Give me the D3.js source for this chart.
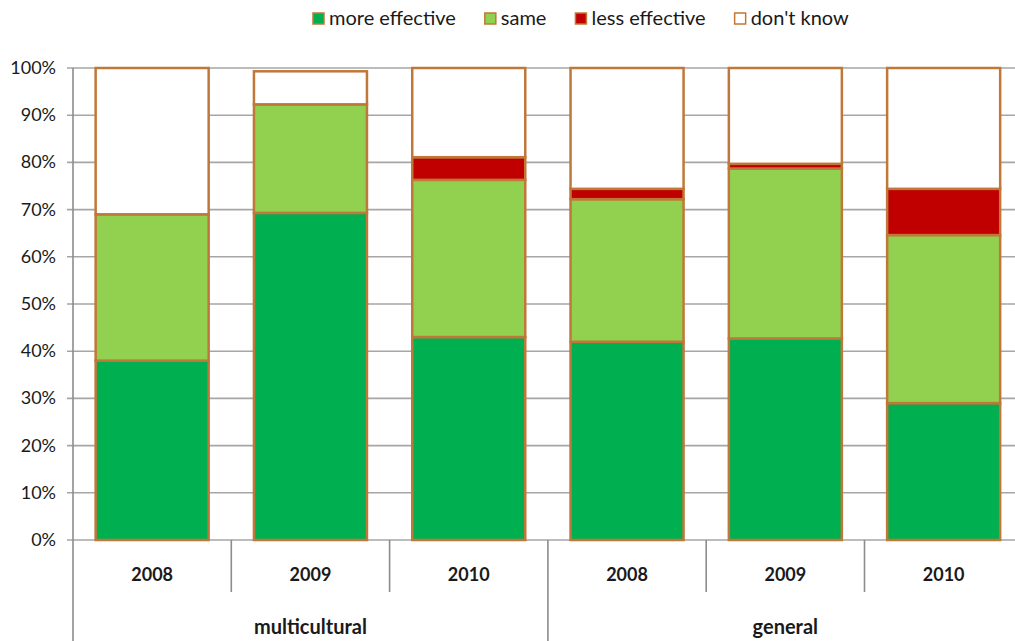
<!DOCTYPE html>
<html>
<head>
<meta charset="utf-8">
<script src="https://cdn.jsdelivr.net/npm/d3@7"></script>
<style>
  body { margin: 0; background: #fff; }
  text { font-family: Lato, "Open Sans", sans-serif; fill: #1a1a1a; }
</style>
</head>
<body>
<script>
// categories
var groups = ["multicultural", "general"];
var years = ["2008", "2009", "2010"];
var seriesNames = ["more effective", "same", "less effective", "don't know"];

// series values (%), in order multicultural 2008..2010, general 2008..2010
var moreEffective = [38, 69.3, 43, 42, 42.7, 29];
var same          = [31, 23, 33.3, 30.2, 36, 35.6];
var lessEffective = [0, 0, 4.8, 2.2, 1, 9.8];
var dontKnow      = [31, 7, 18.9, 25.6, 20.3, 25.6];

var yTicks = [0, 10, 20, 30, 40, 50, 60, 70, 80, 90, 100];
var colors = ["#00b050", "#92d050", "#c00000", "#ffffff"];

var width = 1015, height = 641;
var margin = {left: 73, top: 68, bottom: 101};
var plotBottom = height - margin.bottom;

// build rows for the stack
var keys = [];
var rows = [];
groups.forEach(function(g, gi){
    years.forEach(function(y, yi){
        var i = gi * years.length + yi;
        keys.push(g + "|" + y);
        rows.push({key: g + "|" + y, group: g, year: y,
            "more effective": moreEffective[i], "same": same[i],
            "less effective": lessEffective[i], "don't know": dontKnow[i]});
    });
});

var svg = d3.select("body").append("svg")
    .attr("width", width).attr("height", height);

//SCALES
var xScale = d3.scaleBand()
    .domain(keys)
    .range([margin.left, margin.left + 6 * 158.3])
    .paddingInner(0.286)
    .paddingOuter(0.143);

var yScale = d3.scaleLinear()
    .domain([0, 100])
    .range([plotBottom, margin.top]);

var color = d3.scaleOrdinal().domain(seriesNames).range(colors);

//GRIDLINES
svg.append("g").selectAll("line")
    .data(yTicks)
    .enter().append("line")
    .attr("x1", margin.left - 6).attr("x2", width)
    .attr("y1", function(d){ return yScale(d); })
    .attr("y2", function(d){ return yScale(d); })
    .attr("stroke", "#a6a6a6").attr("stroke-width", 1.6);

// y labels
svg.append("g").selectAll("text")
    .data(yTicks)
    .enter().append("text")
    .attr("x", 56)
    .attr("y", function(d){ return yScale(d) + 6; })
    .attr("text-anchor", "end")
    .style("font-size", "18px")
    .text(function(d){ return d + "%"; });

//BARS
var stacked = d3.stack().keys(seriesNames)(rows);

svg.append("g").selectAll("g")
    .data(stacked)
    .enter().append("g")
    .attr("fill", function(d){ return color(d.key); })
    .selectAll("rect")
    .data(function(d){ return d.filter(function(p){ return p[1] - p[0] > 0; }); })
    .enter().append("rect")
    .attr("x", function(d){ return xScale(d.data.key); })
    .attr("width", xScale.bandwidth())
    .attr("y", function(d){ return yScale(d[1]); })
    .attr("height", function(d){ return yScale(d[0]) - yScale(d[1]); })
    .attr("stroke", "#c0783a")
    .attr("stroke-width", 2.5);

//AXES
var axisColor = "#8c8c8c";
svg.append("line")
    .attr("x1", margin.left).attr("x2", margin.left)
    .attr("y1", margin.top).attr("y2", height)
    .attr("stroke", axisColor).attr("stroke-width", 1.6);

var step = xScale.step();
var bounds = d3.range(1, keys.length + 1);
svg.append("g").selectAll("line")
    .data(bounds)
    .enter().append("line")
    .attr("x1", function(i){ return margin.left + i * step; })
    .attr("x2", function(i){ return margin.left + i * step; })
    .attr("y1", plotBottom)
    .attr("y2", function(i){ return i % years.length === 0 ? height : plotBottom + 52; })
    .attr("stroke", axisColor).attr("stroke-width", 1.6);

// year labels
svg.append("g").selectAll("text")
    .data(rows)
    .enter().append("text")
    .attr("x", function(d){ return xScale(d.key) + xScale.bandwidth() / 2; })
    .attr("y", plotBottom + 41)
    .attr("text-anchor", "middle")
    .style("font-size", "18px").style("font-weight", "bold")
    .text(function(d){ return d.year; });

// group labels
svg.append("g").selectAll("text")
    .data(groups)
    .enter().append("text")
    .attr("x", function(d, i){ return margin.left + (i * 3 + 1.5) * step; })
    .attr("y", plotBottom + 94)
    .attr("text-anchor", "middle")
    .style("font-size", "20px").style("font-weight", "bold")
    .text(function(d){ return d; });

//LEGEND
var legend = svg.append("g");
var lx = 313;
seriesNames.forEach(function(name){
    legend.append("rect")
        .attr("x", lx).attr("y", 13)
        .attr("width", 11).attr("height", 11)
        .attr("fill", color(name))
        .attr("stroke", "#c0783a").attr("stroke-width", 1.5);
    var t = legend.append("text")
        .attr("x", lx + 16).attr("y", 25)
        .style("font-size", "20px")
        .text(name);
    lx += 16 + t.node().getComputedTextLength() + 29;
});
</script>
</body>
</html>
